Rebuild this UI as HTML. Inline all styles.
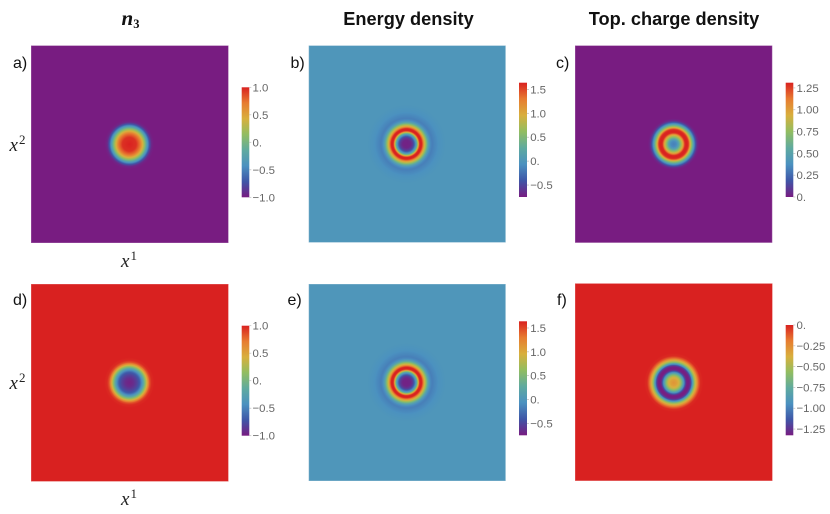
<!DOCTYPE html>
<html lang="en">
<head>
<meta charset="utf-8">
<title>Soliton density plots</title>
<style>
html,body{margin:0;padding:0;background:#fff;}
#figure{display:block;width:830px;height:514px;}
.title{font:bold 18.2px "Liberation Sans",sans-serif;fill:#111;text-anchor:middle;}
.math-title{font:italic bold 21px "Liberation Serif",serif;fill:#111;}
.math-sub{font:bold 12.5px "Liberation Serif",serif;fill:#111;}
.panel-letter{font:16px "Liberation Sans",sans-serif;fill:#111;}
.axis-label{font:italic 19px "Liberation Serif",serif;fill:#222;}
.axis-sup{font:13px "Liberation Serif",serif;fill:#222;}
.tick-label{font:11.4px "Liberation Sans",sans-serif;fill:#666;}
</style>
</head>
<body>
<svg id="figure" xmlns="http://www.w3.org/2000/svg" width="830" height="514" viewBox="0 0 830 514">
  <defs id="defs"></defs>
  <rect x="0" y="0" width="830" height="514" fill="#ffffff"/>

  <text class="math-title">
    <tspan x="121.5" y="25">n</tspan><tspan class="math-sub" dy="3">3</tspan>
  </text>
  <text x="408.5" y="25" class="title">Energy density</text>
  <text x="674" y="25" class="title">Top. charge density</text>

  <text x="13" y="68" class="panel-letter">a)</text>
  <text x="290.5" y="68" class="panel-letter">b)</text>
  <text x="556" y="68" class="panel-letter">c)</text>
  <text x="13" y="305" class="panel-letter">d)</text>
  <text x="287.5" y="305" class="panel-letter">e)</text>
  <text x="557" y="305" class="panel-letter">f)</text>

  <text x="9.5" y="151" class="axis-label">x<tspan class="axis-sup" dx="1" dy="-7">2</tspan></text>
  <text x="121" y="267" class="axis-label">x<tspan class="axis-sup" dx="1" dy="-7">1</tspan></text>
  <text x="9.5" y="389" class="axis-label">x<tspan class="axis-sup" dx="1" dy="-7">2</tspan></text>
  <text x="121" y="505" class="axis-label">x<tspan class="axis-sup" dx="1" dy="-7">1</tspan></text>

  <g id="plots"></g>
</svg>

<script>
// Colour scale
const rainbowColors = ['#781C81', '#3F56A7', '#4B91C0', '#5FAA9F', '#91BD61', '#D8AF3D', '#E77C30', '#D92120'];

// Value ranges shown by each colour bar
const rangeN3 = [-1, 1];
const rangeEnergy = [-0.75, 1.64];
const rangeChargePositive = [0, 1.31];
const rangeChargeNegative = [-1.325, 0];

// Radial profiles, radius on the -100..100 plot coordinate
const radiiA = [0, 7, 11, 14, 16.5, 18.5, 20.5, 22.5, 25];
const valuesA = [1, 0.95, 0.72, 0.35, -0.05, -0.4, -0.75, -0.95, -1];

const radiiB = [0, 4, 6.5, 8, 9.5, 10.5, 11.5, 12.5, 13.5, 14.5, 15.5, 16.5, 18, 19.5, 21, 22.5, 24, 26, 29, 33, 40];
const valuesB = [-0.72, -0.7, -0.55, -0.32, 0, 0.3, 0.75, 1.3, 1.62, 1.64, 1.62, 1.4, 1, 0.7, 0.35, 0.08, -0.1, -0.17, -0.12, -0.05, 0];

const radiiC = [0, 3, 5, 7, 9, 10.5, 11.5, 13, 14.5, 15.5, 16.5, 18, 19.5, 21, 22.5, 24, 26];
const valuesC = [0.32, 0.36, 0.5, 0.72, 0.93, 1.17, 1.29, 1.31, 1.29, 1.2, 1, 0.75, 0.55, 0.33, 0.15, 0.04, 0];

const radiiD = [0, 4, 8, 10.5, 12.5, 14.5, 16, 17.5, 19, 20.5, 22.5, 25.5];
const valuesD = [-0.97, -0.92, -0.8, -0.68, -0.45, -0.15, 0.1, 0.38, 0.65, 0.85, 0.97, 1];

const radiiE = [0, 4, 6.5, 8, 9.5, 10.5, 11.5, 12.5, 13.5, 14.5, 15.5, 16.5, 18, 19.5, 21, 22.5, 24, 26, 29, 33, 40];
const valuesE = [-0.72, -0.7, -0.55, -0.32, 0, 0.3, 0.75, 1.3, 1.62, 1.64, 1.62, 1.4, 1, 0.7, 0.35, 0.08, -0.1, -0.17, -0.12, -0.05, 0];

const radiiF = [0, 3.3, 5.7, 7.3, 9, 10.7, 12, 13, 14.5, 16, 17.2, 18.3, 19.7, 20.7, 22.7, 24.7, 27, 30];
const valuesF = [-0.28, -0.33, -0.42, -0.57, -0.76, -1, -1.2, -1.3, -1.325, -1.3, -1.2, -1, -0.76, -0.57, -0.35, -0.15, -0.02, 0];

// Colour bar ticks
const ticksN3 = [1, 0.5, 0, -0.5, -1];
const tickLabelsN3 = ['1.0', '0.5', '0.', '\u22120.5', '\u22121.0'];
const ticksEnergy = [1.5, 1, 0.5, 0, -0.5];
const tickLabelsEnergy = ['1.5', '1.0', '0.5', '0.', '\u22120.5'];
const ticksChargePositive = [1.25, 1, 0.75, 0.5, 0.25, 0];
const tickLabelsChargePositive = ['1.25', '1.00', '0.75', '0.50', '0.25', '0.'];
const ticksChargeNegative = [0, -0.25, -0.5, -0.75, -1, -1.25];
const tickLabelsChargeNegative = ['0.', '\u22120.25', '\u22120.50', '\u22120.75', '\u22121.00', '\u22121.25'];

const SVGNS = 'http://www.w3.org/2000/svg';
const plotsRoot = document.getElementById('plots');
const defsRoot = document.getElementById('defs');

function hexToRgb(h) {
  return [1, 3, 5].map(function (i) { return parseInt(h.slice(i, i + 2), 16); });
}
function colorAt(t) {
  const c = Math.max(0, Math.min(1, t)) * (rainbowColors.length - 1);
  const i = Math.min(Math.floor(c), rainbowColors.length - 2);
  const f = c - i;
  const a = hexToRgb(rainbowColors[i]);
  const b = hexToRgb(rainbowColors[i + 1]);
  return 'rgb(' + a.map(function (v, k) { return Math.round(v + (b[k] - v) * f); }).join(',') + ')';
}
function make(tag, attrs, parent) {
  const el = document.createElementNS(SVGNS, tag);
  Object.keys(attrs).forEach(function (k) { el.setAttribute(k, attrs[k]); });
  parent.appendChild(el);
  return el;
}

function drawPanel(cfg) {
  const range = cfg.range;
  const norm = function (v) { return (v - range[0]) / (range[1] - range[0]); };
  const group = make('g', {}, plotsRoot);
  
  

  // Axis functions for the density plot (plot coordinates -100..100)
  const sx = function (x) { return cfg.x + (x + 100) / 200 * cfg.size; };
  const sy = function (y) { return cfg.y + (100 - y) / 200 * cfg.size; };
  const sr = function (r) { return r / 200 * cfg.size; };

  const farValue = cfg.values[cfg.values.length - 1];
  const field = make('rect', {
    x: sx(-100), y: sy(100), width: cfg.size, height: cfg.size, fill: colorAt(norm(farValue))
  }, group);
  
  

  const rMax = cfg.radii[cfg.radii.length - 1];
  const grad = make('radialGradient', { id: 'radial-' + cfg.id }, defsRoot);
  cfg.radii.forEach(function (r, i) {
    if (i === cfg.radii.length - 1) {
      make('stop', { offset: 1, 'stop-color': colorAt(norm(cfg.values[i])) }, grad);
      return;
    }
    const steps = 8;
    for (let k = 0; k < steps; k++) {
      const f = k / steps;
      const rr = r + (cfg.radii[i + 1] - r) * f;
      const vv = cfg.values[i] + (cfg.values[i + 1] - cfg.values[i]) * f;
      make('stop', { offset: rr / rMax, 'stop-color': colorAt(norm(vv)) }, grad);
    }
  });
  const soliton = make('circle', {
    cx: sx(0) + cfg.dx, cy: sy(0) + cfg.dy, r: sr(rMax), fill: 'url(#radial-' + cfg.id + ')'
  }, group);
  
  

  const frame = make('rect', {
    x: sx(-100), y: sy(100), width: cfg.size, height: cfg.size, fill: 'none',
    stroke: '#ffffff', 'stroke-opacity': 0.3, 'stroke-width': 1
  }, group);
  
  

  // Colour bar
  const bar = cfg.bar;
  const by = function (v) { return bar.y + bar.h * (range[1] - v) / (range[1] - range[0]); };
  const legend = make('g', {}, group);
  
  
  const barGrad = make('linearGradient', { id: 'bar-' + cfg.id, x1: 0, y1: 1, x2: 0, y2: 0 }, defsRoot);
  rainbowColors.forEach(function (c, i) {
    make('stop', { offset: i / (rainbowColors.length - 1), 'stop-color': c }, barGrad);
  });
  const barRect = make('rect', {
    x: bar.x, y: bar.y, width: bar.w, height: bar.h, fill: 'url(#bar-' + cfg.id + ')'
  }, legend);
  
  

  cfg.ticks.forEach(function (v, i) {
    const y = by(v);
    const tick = make('line', {
      x1: bar.x + bar.w, x2: bar.x + bar.w + 2, y1: y, y2: y, stroke: '#bbbbbb', 'stroke-width': 0.7
    }, legend);
    
    
    const label = make('text', { x: bar.x + bar.w + 3.2, y: y + 4, class: 'tick-label' }, legend);
    
    
    label.textContent = cfg.tickLabels[i];
  });
}

drawPanel({ id: 'a', x: 31, y: 45.5, size: 197.5, dx: -0.4, dy: 0, radii: radiiA, values: valuesA, range: rangeN3,
  ticks: ticksN3, tickLabels: tickLabelsN3, bar: { x: 241.7, y: 87.3, w: 7.6, h: 110 } });
drawPanel({ id: 'b', x: 308.7, y: 45.5, size: 197, dx: -0.7, dy: 0, radii: radiiB, values: valuesB, range: rangeEnergy,
  ticks: ticksEnergy, tickLabels: tickLabelsEnergy, bar: { x: 519, y: 82.7, w: 8, h: 114.3 } });
drawPanel({ id: 'c', x: 575, y: 45.5, size: 197.3, dx: 0, dy: 0, radii: radiiC, values: valuesC, range: rangeChargePositive,
  ticks: ticksChargePositive, tickLabels: tickLabelsChargePositive, bar: { x: 785.7, y: 82.7, w: 7.6, h: 114.3 } });
drawPanel({ id: 'd', x: 31, y: 284, size: 197.5, dx: -0.4, dy: -0.1, radii: radiiD, values: valuesD, range: rangeN3,
  ticks: ticksN3, tickLabels: tickLabelsN3, bar: { x: 241.7, y: 325.7, w: 7.6, h: 110 } });
drawPanel({ id: 'e', x: 308.7, y: 284, size: 197, dx: -0.7, dy: -0.1, radii: radiiE, values: valuesE, range: rangeEnergy,
  ticks: ticksEnergy, tickLabels: tickLabelsEnergy, bar: { x: 519, y: 321.3, w: 8, h: 114 } });
drawPanel({ id: 'f', x: 575, y: 283.4, size: 197.5, dx: 0, dy: 0.5, radii: radiiF, values: valuesF, range: rangeChargeNegative,
  ticks: ticksChargeNegative, tickLabels: tickLabelsChargeNegative, bar: { x: 785.7, y: 325, w: 7.6, h: 110.3 } });
</script>
</body>
</html>
